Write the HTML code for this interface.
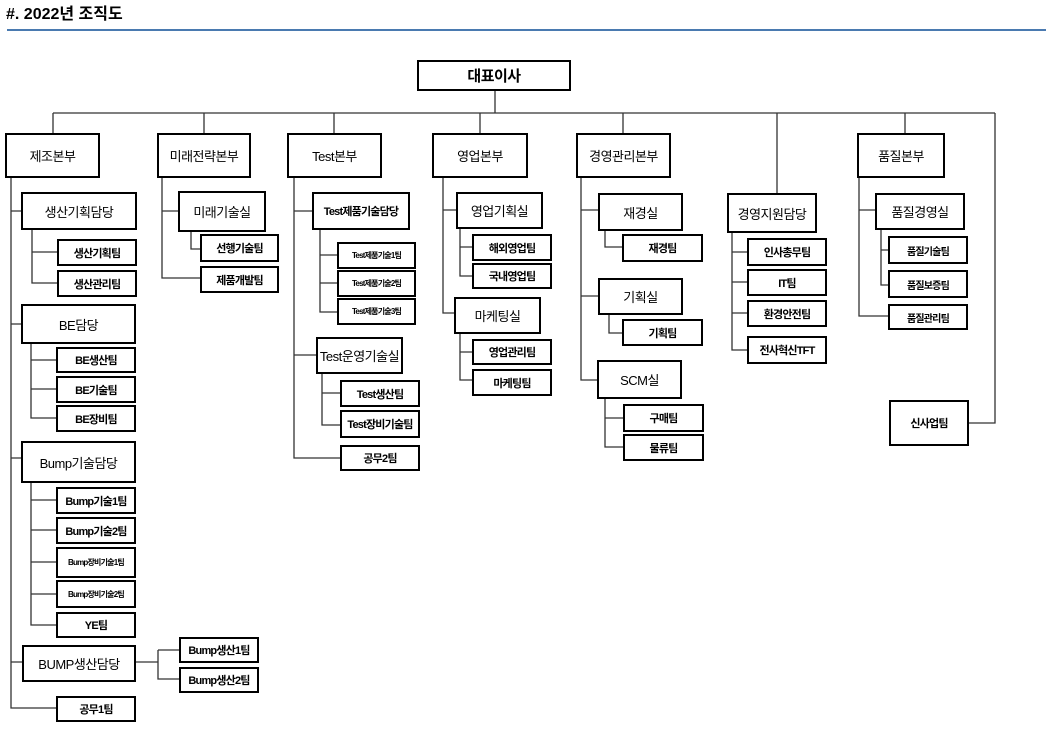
<!DOCTYPE html>
<html><head><meta charset="utf-8"><style>
body{margin:0;width:1046px;height:748px;background:#fff;position:relative;overflow:hidden;font-family:"Liberation Sans","Noto Sans CJK KR",sans-serif;}
.b{position:absolute;box-sizing:border-box;border:2.5px solid #000;background:#fff;display:flex;align-items:center;justify-content:center;font-size:12px;color:#000;white-space:nowrap;letter-spacing:-0.8px;font-weight:bold}
.t{font-size:13px;font-weight:normal;letter-spacing:-0.5px}.s{font-size:11px}.x{font-size:8px}
svg{position:absolute;left:0;top:0}
</style></head><body>
<div style="position:absolute;left:6px;top:0px;font-size:16px;font-weight:bold;font-family:'Liberation Sans','Noto Sans CJK KR',sans-serif">#. 2022년 조직도</div>
<div style="position:absolute;left:7px;top:29px;width:1039px;height:2px;background:#4a7ab0"></div>
<svg width="1046" height="748" stroke="#333" stroke-width="1.3" fill="none">
<path d="M495 90V113M53 113H995M53 113V133M204 113V133M334 113V133M480 113V133M623 113V133M777 113V193M905 113V133M995 113V423H969"/>
<path d="M11 178V708H56M11 211H21M11 324H21M11 458H21M11 662H22M32 230V283H57M32 252H57"/>
<path d="M31 344V418H56M31 360H56M31 389H56"/>
<path d="M31 482V625H56M31 500H56M31 530H56M31 562H56M31 594H56"/>
<path d="M136 662H158M158 650V679H179M158 650H179"/>
<path d="M162 178V278H200M162 211H178M191 232V249H200"/>
<path d="M294 178V458H340M294 211H312M294 355H316M320 230V312H337M320 255H337M320 283H337M322 374V425H340M322 393H340"/>
<path d="M443 178V313H454M443 210H456M460 228V276H472M460 247H472M460 333V380H472M460 352H472"/>
<path d="M581 178V380H597M581 210H598M581 296H598M605 230V247H622M609 314V333H622M605 398V447H623M605 418H623"/>
<path d="M732 232V350H747M732 252H747M732 282H747M732 313H747"/>
<path d="M859 178V316H888M859 210H875M881 229V285H888M881 250H888"/>
</svg>
<div class="b t" style="left:417px;top:60px;width:154px;height:31px;font-size:15px;font-weight:bold">대표이사</div>
<div class="b t" style="left:5px;top:133px;width:95px;height:45px">제조본부</div>
<div class="b t" style="left:157px;top:133px;width:94px;height:45px">미래전략본부</div>
<div class="b t" style="left:287px;top:133px;width:95px;height:45px">Test본부</div>
<div class="b t" style="left:432px;top:133px;width:96px;height:45px">영업본부</div>
<div class="b t" style="left:576px;top:133px;width:95px;height:45px">경영관리본부</div>
<div class="b t" style="left:857px;top:133px;width:88px;height:45px">품질본부</div>

<div class="b t" style="left:21px;top:192px;width:116px;height:38px">생산기획담당</div>
<div class="b s" style="left:57px;top:239px;width:80px;height:27px">생산기획팀</div>
<div class="b s" style="left:57px;top:270px;width:80px;height:27px">생산관리팀</div>
<div class="b t" style="left:21px;top:304px;width:115px;height:40px">BE담당</div>
<div class="b s" style="left:56px;top:347px;width:80px;height:26px">BE생산팀</div>
<div class="b s" style="left:56px;top:376px;width:80px;height:27px">BE기술팀</div>
<div class="b s" style="left:56px;top:405px;width:80px;height:27px">BE장비팀</div>
<div class="b t" style="left:21px;top:441px;width:115px;height:42px">Bump기술담당</div>
<div class="b s" style="left:56px;top:487px;width:80px;height:27px">Bump기술1팀</div>
<div class="b s" style="left:56px;top:517px;width:80px;height:27px">Bump기술2팀</div>
<div class="b x" style="left:56px;top:547px;width:80px;height:31px">Bump장비기술1팀</div>
<div class="b x" style="left:56px;top:580px;width:80px;height:28px">Bump장비기술2팀</div>
<div class="b s" style="left:56px;top:612px;width:80px;height:26px">YE팀</div>
<div class="b t" style="left:22px;top:645px;width:114px;height:37px">BUMP생산담당</div>
<div class="b s" style="left:179px;top:637px;width:80px;height:26px">Bump생산1팀</div>
<div class="b s" style="left:179px;top:667px;width:80px;height:26px">Bump생산2팀</div>
<div class="b s" style="left:56px;top:696px;width:80px;height:26px">공무1팀</div>

<div class="b t" style="left:178px;top:191px;width:88px;height:41px">미래기술실</div>
<div class="b s" style="left:200px;top:234px;width:79px;height:28px">선행기술팀</div>
<div class="b s" style="left:200px;top:266px;width:79px;height:27px">제품개발팀</div>

<div class="b s" style="left:312px;top:192px;width:98px;height:38px">Test제품기술담당</div>
<div class="b x" style="left:337px;top:242px;width:79px;height:27px">Test제품기술1팀</div>
<div class="b x" style="left:337px;top:270px;width:79px;height:27px">Test제품기술2팀</div>
<div class="b x" style="left:337px;top:298px;width:79px;height:27px">Test제품기술3팀</div>
<div class="b t" style="left:316px;top:337px;width:87px;height:37px">Test운영기술실</div>
<div class="b s" style="left:340px;top:380px;width:80px;height:27px">Test생산팀</div>
<div class="b s" style="left:340px;top:410px;width:80px;height:28px">Test장비기술팀</div>
<div class="b s" style="left:340px;top:445px;width:80px;height:26px">공무2팀</div>

<div class="b t" style="left:456px;top:192px;width:87px;height:37px">영업기획실</div>
<div class="b s" style="left:472px;top:234px;width:80px;height:27px">해외영업팀</div>
<div class="b s" style="left:472px;top:263px;width:80px;height:26px">국내영업팀</div>
<div class="b t" style="left:454px;top:297px;width:87px;height:37px">마케팅실</div>
<div class="b s" style="left:472px;top:339px;width:80px;height:26px">영업관리팀</div>
<div class="b s" style="left:472px;top:369px;width:80px;height:27px">마케팅팀</div>

<div class="b t" style="left:598px;top:193px;width:85px;height:38px">재경실</div>
<div class="b s" style="left:622px;top:234px;width:81px;height:28px">재경팀</div>
<div class="b t" style="left:598px;top:278px;width:85px;height:37px">기획실</div>
<div class="b s" style="left:622px;top:319px;width:81px;height:27px">기획팀</div>
<div class="b t" style="left:597px;top:360px;width:85px;height:39px">SCM실</div>
<div class="b s" style="left:623px;top:404px;width:81px;height:28px">구매팀</div>
<div class="b s" style="left:623px;top:434px;width:81px;height:27px">물류팀</div>

<div class="b t" style="left:727px;top:193px;width:90px;height:40px">경영지원담당</div>
<div class="b s" style="left:747px;top:238px;width:80px;height:28px">인사총무팀</div>
<div class="b s" style="left:747px;top:269px;width:80px;height:27px">IT팀</div>
<div class="b s" style="left:747px;top:300px;width:80px;height:27px">환경안전팀</div>
<div class="b s" style="left:747px;top:336px;width:80px;height:28px">전사혁신TFT</div>

<div class="b t" style="left:875px;top:193px;width:90px;height:37px">품질경영실</div>
<div class="b x" style="left:888px;top:236px;width:80px;height:28px;font-size:10px">품질기술팀</div>
<div class="b x" style="left:888px;top:270px;width:80px;height:28px;font-size:10px">품질보증팀</div>
<div class="b x" style="left:888px;top:304px;width:80px;height:26px;font-size:10px">품질관리팀</div>
<div class="b s" style="left:889px;top:400px;width:80px;height:46px">신사업팀</div>
</body></html>
